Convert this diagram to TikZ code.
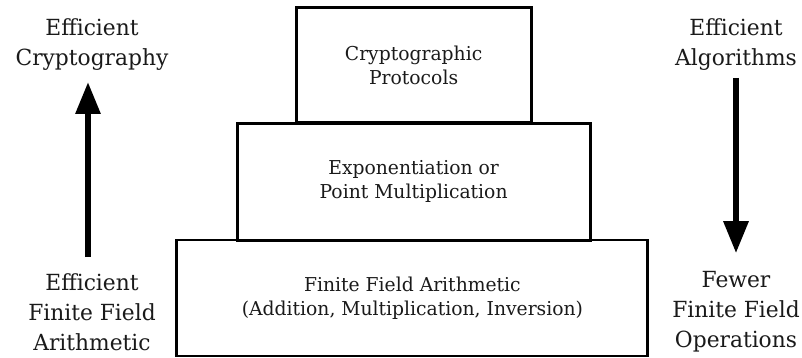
\documentclass[tikz,border=0pt]{standalone}
\usepackage{fontspec}
\setmainfont{DejaVu Serif}[FakeStretch=0.98]
\usepackage{tikz}
\usetikzlibrary{positioning,arrows.meta}
\definecolor{linedark}{HTML}{000000}
\definecolor{textdark}{HTML}{1A1A1A}
\newcommand{\layerfont}{\fontsize{13.6}{17.1}\selectfont}
\newcommand{\sidefont}{\fontsize{15.8}{21.3}\selectfont}
\tikzset{
  % --- pyramid layers ---
  layer/.style={draw=linedark, line width=2pt, align=center, inner sep=0pt,
                font=\layerfont, text=textdark},
  % --- side labels and the two big arrows ---
  sidelabel/.style={align=center, font=\sidefont, text=textdark, inner sep=0pt},
  bigarrow/.style={draw=linedark, line width=4.3pt,
                   -{Triangle[length=8mm,width=6mm]}},
}

\begin{document}
\begin{tikzpicture}
  \useasboundingbox (0,0) rectangle (20.05,8.95);

  % --- pyramid, bottom to top ---
  \node[layer, minimum width=117.75mm, minimum height=29mm] (ffa) at (10.31,1.50)
        {Finite Field Arithmetic\\(Addition, Multiplication, Inversion)};
  \node[layer, minimum width=88.25mm, minimum height=29.25mm] (expo) at (10.34,4.41)
        {Exponentiation or\\Point Multiplication};
  \node[layer, minimum width=58.75mm, minimum height=28.85mm] (proto) at (10.34,7.32)
        {Cryptographic\\Protocols};

  % --- left side: arithmetic up to cryptography ---
  \node[sidelabel] (effcrypt) at (2.30,7.84) {Efficient\\Cryptography};
  \node[sidelabel] (effarith) at (2.30,1.15) {Efficient\\Finite Field\\Arithmetic};
  \coordinate (lfrom) at (2.20,2.52);
  \coordinate (lto)   at (2.20,6.90);
  \draw[bigarrow] (lfrom) -- (lto);

  % --- right side: algorithms down to fewer operations ---
  \node[sidelabel] (effalgo) at (18.40,7.84) {Efficient\\Algorithms};
  \node[sidelabel] (fewops)  at (18.40,1.15) {Fewer\\Finite Field\\Operations};
  \coordinate (rfrom) at (18.40,7.00);
  \coordinate (rto)   at (18.40,2.62);
  \draw[bigarrow] (rfrom) -- (rto);
\end{tikzpicture}
\end{document}
